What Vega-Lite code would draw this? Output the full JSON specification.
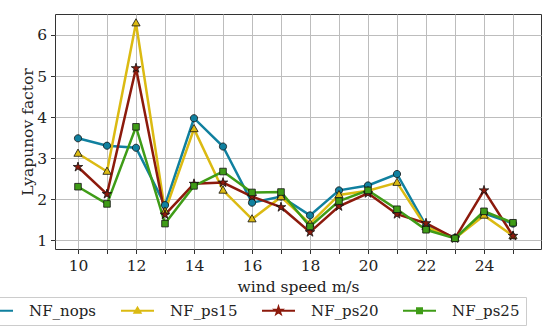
{
  "$schema": "https://vega.github.io/schema/vega-lite/v6.json",
  "autosize": "none",
  "width": 486,
  "height": 235,
  "padding": {"left": 55, "top": 14, "right": 3, "bottom": 78},
  "background": "white",
  "config": {
    "font": "DejaVu Serif",
    "view": {"stroke": "#333333", "strokeWidth": 1}
  },
  "data": {"values": [
    {"w": 10, "v": 3.48, "s": "NF_nops"}, {"w": 11, "v": 3.30, "s": "NF_nops"}, {"w": 12, "v": 3.25, "s": "NF_nops"}, {"w": 13, "v": 1.85, "s": "NF_nops"},
    {"w": 14, "v": 3.97, "s": "NF_nops"}, {"w": 15, "v": 3.28, "s": "NF_nops"}, {"w": 16, "v": 1.91, "s": "NF_nops"}, {"w": 17, "v": 2.06, "s": "NF_nops"},
    {"w": 18, "v": 1.60, "s": "NF_nops"}, {"w": 19, "v": 2.21, "s": "NF_nops"}, {"w": 20, "v": 2.33, "s": "NF_nops"}, {"w": 21, "v": 2.61, "s": "NF_nops"},
    {"w": 22, "v": 1.35, "s": "NF_nops"}, {"w": 23, "v": 1.05, "s": "NF_nops"}, {"w": 24, "v": 1.65, "s": "NF_nops"}, {"w": 25, "v": 1.40, "s": "NF_nops"},
    {"w": 10, "v": 3.11, "s": "NF_ps15"}, {"w": 11, "v": 2.67, "s": "NF_ps15"}, {"w": 12, "v": 6.29, "s": "NF_ps15"}, {"w": 13, "v": 1.70, "s": "NF_ps15"},
    {"w": 14, "v": 3.71, "s": "NF_ps15"}, {"w": 15, "v": 2.21, "s": "NF_ps15"}, {"w": 16, "v": 1.51, "s": "NF_ps15"}, {"w": 17, "v": 2.05, "s": "NF_ps15"},
    {"w": 18, "v": 1.40, "s": "NF_ps15"}, {"w": 19, "v": 2.10, "s": "NF_ps15"}, {"w": 20, "v": 2.20, "s": "NF_ps15"}, {"w": 21, "v": 2.40, "s": "NF_ps15"},
    {"w": 22, "v": 1.32, "s": "NF_ps15"}, {"w": 23, "v": 1.04, "s": "NF_ps15"}, {"w": 24, "v": 1.60, "s": "NF_ps15"}, {"w": 25, "v": 1.10, "s": "NF_ps15"},
    {"w": 10, "v": 2.78, "s": "NF_ps20"}, {"w": 11, "v": 2.12, "s": "NF_ps20"}, {"w": 12, "v": 5.19, "s": "NF_ps20"}, {"w": 13, "v": 1.62, "s": "NF_ps20"},
    {"w": 14, "v": 2.37, "s": "NF_ps20"}, {"w": 15, "v": 2.40, "s": "NF_ps20"}, {"w": 16, "v": 2.06, "s": "NF_ps20"}, {"w": 17, "v": 1.80, "s": "NF_ps20"},
    {"w": 18, "v": 1.19, "s": "NF_ps20"}, {"w": 19, "v": 1.82, "s": "NF_ps20"}, {"w": 20, "v": 2.14, "s": "NF_ps20"}, {"w": 21, "v": 1.63, "s": "NF_ps20"},
    {"w": 22, "v": 1.41, "s": "NF_ps20"}, {"w": 23, "v": 1.04, "s": "NF_ps20"}, {"w": 24, "v": 2.21, "s": "NF_ps20"}, {"w": 25, "v": 1.10, "s": "NF_ps20"},
    {"w": 10, "v": 2.30, "s": "NF_ps25"}, {"w": 11, "v": 1.88, "s": "NF_ps25"}, {"w": 12, "v": 3.76, "s": "NF_ps25"}, {"w": 13, "v": 1.40, "s": "NF_ps25"},
    {"w": 14, "v": 2.32, "s": "NF_ps25"}, {"w": 15, "v": 2.67, "s": "NF_ps25"}, {"w": 16, "v": 2.16, "s": "NF_ps25"}, {"w": 17, "v": 2.17, "s": "NF_ps25"},
    {"w": 18, "v": 1.33, "s": "NF_ps25"}, {"w": 19, "v": 1.95, "s": "NF_ps25"}, {"w": 20, "v": 2.21, "s": "NF_ps25"}, {"w": 21, "v": 1.75, "s": "NF_ps25"},
    {"w": 22, "v": 1.25, "s": "NF_ps25"}, {"w": 23, "v": 1.04, "s": "NF_ps25"}, {"w": 24, "v": 1.70, "s": "NF_ps25"}, {"w": 25, "v": 1.42, "s": "NF_ps25"}
  ]},
  "encoding": {
    "x": {"field": "w", "type": "quantitative",
      "scale": {"domain": [9.206897, 25.965517], "nice": false, "zero": false},
      "axis": {"title": "wind speed m/s", "values": [10,11,12,13,14,15,16,17,18,19,20,21,22,23,24,25],
        "labelExpr": "datum.value % 2 === 0 ? datum.label : ''", "zindex": 0,
        "grid": true, "gridColor": "#bdbdbd", "gridOpacity": 1, "gridWidth": 1,
        "domain": false, "ticks": true, "tickColor": "#333333", "tickSize": 4.5,
        "labelFont": "DejaVu Serif", "labelFontSize": 15.5, "labelColor": "#222222", "labelPadding": 5,
        "titleFont": "DejaVu Serif", "titleFontSize": 15.5, "titleFontWeight": "normal", "titleColor": "#222222", "titlePadding": 5}},
    "y": {"field": "v", "type": "quantitative",
      "scale": {"domain": [0.780488, 6.512195], "nice": false, "zero": false},
      "axis": {"title": "Lyapunov factor", "values": [1,2,3,4,5,6], "zindex": 0,
        "grid": true, "gridColor": "#bdbdbd", "gridOpacity": 1, "gridWidth": 1,
        "domain": false, "ticks": true, "tickColor": "#333333", "tickSize": 4.5,
        "labelFont": "DejaVu Serif", "labelFontSize": 15.5, "labelColor": "#222222", "labelPadding": 4,
        "titleFont": "DejaVu Serif", "titleFontSize": 15.5, "titleFontWeight": "normal", "titleColor": "#222222", "titlePadding": 1}}
  },
  "layer": [
    {"mark": {"type": "line", "strokeWidth": 2.5},
     "encoding": {
      "color": {"field": "s", "type": "nominal",
      "scale": {"domain": ["NF_nops", "NF_ps15", "NF_ps20", "NF_ps25"], "range": ["#10809f", "#dbba12", "#8c1a0c", "#3f9c17"]},
      "legend": {
        "orient": "none", "direction": "horizontal", "columns": 4, "title": null,
        "legendX": -72, "legendY": 283, "gridAlign": "all",
        "strokeColor": "#cccccc", "padding": 6, "fillColor": "white",
        "labelFont": "DejaVu Serif", "labelFontSize": 15, "labelColor": "#222222",
        "symbolSize": 4, "symbolStrokeWidth": 2, "labelOffset": 25, "columnPadding": 20,
        "encode": {"symbols": {"update": {
          "shape": {"signal": "datum.value === 'NF_nops' ? 'M-16.5,0H16.5M-2.6,0A2.6,2.6,0,1,1,2.6,0A2.6,2.6,0,1,1,-2.6,0Z' : datum.value === 'NF_ps15' ? 'M-16.5,0H16.5M0,-3L3,2L-3,2Z' : datum.value === 'NF_ps20' ? 'M-16.5,0H16.5M0,-3.6L0.8,-1.1L3.4,-1.1L1.3,0.4L2.1,2.9L0,1.4L-2.1,2.9L-1.3,0.4L-3.4,-1.1L-0.8,-1.1Z' : 'M-16.5,0H16.5M-2.5,-2.5H2.5V2.5H-2.5Z'"},
          "fill": {"signal": "scale('color', datum.value)"},
          "stroke": {"signal": "scale('color', datum.value)"}
        }}}
      }}
     }},
    {"transform": [{"filter": "datum.s === 'NF_nops'"}],
     "mark": {"type": "point", "filled": true, "size": 4, "stroke": "#111111", "strokeWidth": 0.8, "opacity": 1,
       "shape": "M-3.6,0A3.6,3.6,0,1,1,3.6,0A3.6,3.6,0,1,1,-3.6,0Z"},
     "encoding": {"fill": {"field": "s", "type": "nominal", "scale": {"domain": ["NF_nops", "NF_ps15", "NF_ps20", "NF_ps25"], "range": ["#10809f", "#dbba12", "#8c1a0c", "#3f9c17"]}, "legend": null}}},
    {"transform": [{"filter": "datum.s === 'NF_ps15'"}],
     "mark": {"type": "point", "filled": true, "size": 4, "stroke": "#111111", "strokeWidth": 0.8, "opacity": 1,
       "shape": "M0,-4.4L4.1,2.8L-4.1,2.8Z"},
     "encoding": {"fill": {"field": "s", "type": "nominal", "legend": null}}},
    {"transform": [{"filter": "datum.s === 'NF_ps20'"}],
     "mark": {"type": "point", "filled": true, "size": 4, "stroke": "#111111", "strokeWidth": 0.8, "opacity": 1,
       "shape": "M0,-5L1.1,-1.5L4.75,-1.55L1.8,0.6L2.95,4.05L0,1.9L-2.95,4.05L-1.8,0.6L-4.75,-1.55L-1.1,-1.5Z"},
     "encoding": {"fill": {"field": "s", "type": "nominal", "legend": null}}},
    {"transform": [{"filter": "datum.s === 'NF_ps25'"}],
     "mark": {"type": "point", "filled": true, "size": 4, "stroke": "#111111", "strokeWidth": 0.8, "opacity": 1,
       "shape": "M-3.3,-3.3H3.3V3.3H-3.3Z"},
     "encoding": {"fill": {"field": "s", "type": "nominal", "legend": null}}}
  ]
}
